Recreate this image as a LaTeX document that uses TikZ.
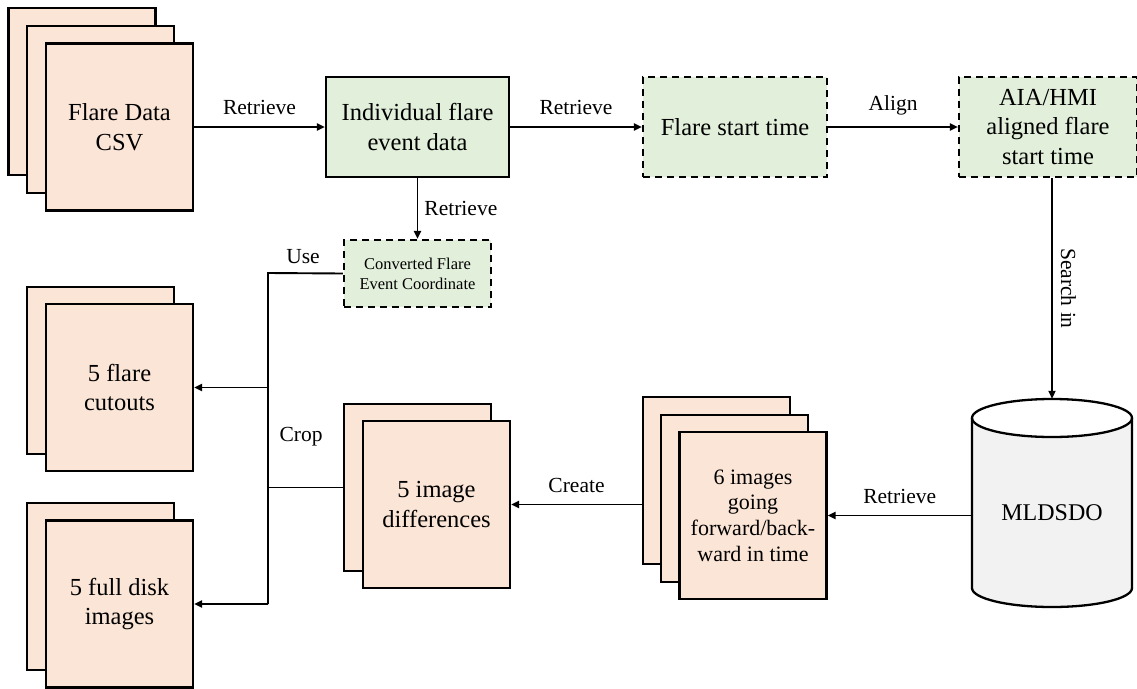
\documentclass[tikz,border=0pt]{standalone}
\usepackage{fontspec}
\setmainfont{Liberation Serif}
\usetikzlibrary{arrows.meta}
\definecolor{peach}{HTML}{FBE5D6}
\definecolor{lgreen}{HTML}{E2EFDA}
\definecolor{lgray}{HTML}{F2F2F2}
\tikzset{
  sheet/.style={draw=black, line width=2.1pt, fill=peach, minimum width=147, minimum height=167, inner sep=0pt, align=center, font=\fontsize{24.5}{29.5}\selectfont},
  gbox/.style={draw=black, line width=2.1pt, fill=lgreen, inner sep=0pt, align=center, font=\fontsize{24.5}{29.5}\selectfont},
  dbox/.style={gbox, dash pattern=on 7pt off 5pt},
  conn/.style={line width=1.9pt, draw=black},
  arr/.style={conn, -{Triangle[length=8pt,width=7pt]}},
  lbl/.style={font=\fontsize{21.5}{25}\selectfont, inner sep=0pt}
}
\begin{document}
\begin{tikzpicture}[x=1pt, y=-1pt]
\useasboundingbox (0,0) rectangle (1137,688);

% Flare Data CSV stack
\node[sheet] (csv3) at (82,91.5) {};
\node[sheet] (csv2) at (100.5,109.5) {};
\node[sheet] (csv1) at (119.5,127) {Flare Data\\CSV};

% top row boxes
\node[gbox, minimum width=183, minimum height=100] (ind) at (417.5,127) {Individual flare\\event data};
\node[dbox, minimum width=184, minimum height=100] (fst) at (735,127) {Flare start time};
\node[dbox, minimum width=178, minimum height=100] (aia) at (1048,127) {AIA/HMI\\aligned flare\\start time};

% converted coordinate
\node[dbox, minimum width=147, minimum height=67, font=\fontsize{16.5}{20}\selectfont] (conv) at (417.5,273.5) {Converted Flare\\Event Coordinate};

% 5 flare cutouts
\node[sheet] (cut2) at (100.5,370.5) {};
\node[sheet] (cut1) at (119.5,387.5) {5 flare\\cutouts};

% 5 full disk images
\node[sheet] (disk2) at (100.5,586.5) {};
\node[sheet] (disk1) at (119.5,604) {5 full disk\\images};

% 5 image differences
\node[sheet] (diff2) at (417.5,487.5) {};
\node[sheet] (diff1) at (436.5,504.5) {5 image\\differences};

% 6 images
\node[sheet] (six3) at (716.5,480.5) {};
\node[sheet] (six2) at (734.5,498.5) {};
\node[sheet, font=\fontsize{22}{25.6}\selectfont] (six1) at (753,515.5) {6 images\\going\\forward/back-\\ward in time};

% cylinder MLDSDO
\fill[lgray] (972,418) -- (972,588) arc (180:0:80 and 19) -- (1132,418) arc (0:180:80 and 19) -- cycle;
\draw[line width=2.3pt] (972,418) -- (972,588) arc (180:0:80 and 19) -- (1132,418);
\draw[line width=2.3pt] (1052,418) ellipse (80 and 19);
\node[minimum width=160, minimum height=208, inner sep=0pt] (cyl) at (1052,503) {};
\node[font=\fontsize{24}{28}\selectfont] (cyltxt) at (1052,513) {MLDSDO};

% connectors
\draw[arr] (csv1.east |- ind.west) -- (ind.west) node[lbl, midway, above=11pt] {Retrieve};
\draw[arr] (ind.east) -- (fst.west) node[lbl, midway, above=11pt] {Retrieve};
\draw[arr] (fst.east) -- (aia.west) node[lbl, midway, above=11pt] {Align};
\draw[arr] (ind.south) -- (conv.north) node[lbl, pos=0.5, right=6pt] {Retrieve};
\draw[arr] (cyl.north |- aia.south) -- (cyl.north) node[lbl, pos=0.5, right=8pt, rotate=-90, anchor=south] {Search in};
\draw[arr] (cyl.west |- six1.east) -- (six1.east) node[lbl, midway, above=11pt] {Retrieve};
\draw[arr] (six3.west |- diff1.east) -- (diff1.east) node[lbl, midway, above=11pt] {Create};

\coordinate (tA) at (268,273);
\coordinate (tB) at (268,604);
\draw[conn] (conv.west) -- (tA) -- (tB);
\draw[conn] (diff2.west) -- (diff2.west -| tA);
\draw[arr] (tA |- cut1.east) -- (cut1.east);
\draw[arr] (tB) -- (disk1.east |- tB);
\node[lbl] (use) at (303,257) {Use};
\node[lbl] (crop) at (301,437) {Crop};
\end{tikzpicture}
\end{document}
